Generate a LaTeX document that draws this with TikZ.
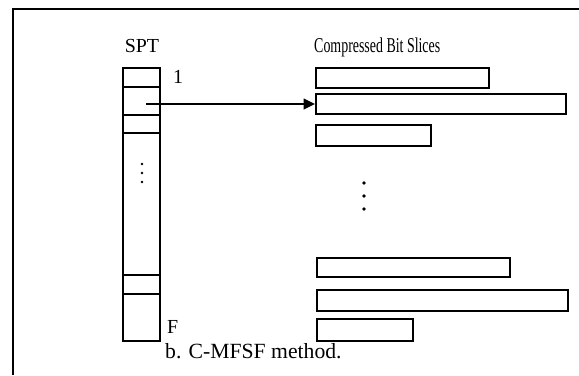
\documentclass[tikz,border=0pt]{standalone}
\usepackage{fontspec}
\setmainfont{Liberation Serif}
\newfontfamily\condfont[FakeStretch=0.66]{Liberation Serif}
\usetikzlibrary{arrows.meta,positioning}
\tikzset{
  cell/.style={draw=black,line width=1.4pt,minimum width=1.11cm,inner sep=0pt},
  slice/.style={draw=black,line width=1.5pt,anchor=north west,inner sep=0pt},
  lbl/.style={inner sep=0pt,font=\fontsize{17}{20}\selectfont},
  ptrarrow/.style={-{Triangle[length=3.4mm,width=3.2mm]},line width=1.3pt},
}

\begin{document}
\begin{tikzpicture}
  \useasboundingbox (0,0) rectangle (17.37,-11.25);
  % frame
  \draw[line width=1.3pt] (17.37,-0.27) -- (0.39,-0.27) -- (0.39,-11.25);
  % SPT column
  \node[lbl,anchor=base] (spt) at (4.26,-1.56) {SPT};
  \node[cell,minimum height=0.57cm] (c1) at (4.245,-2.325) {};
  \node[cell,minimum height=0.84cm] (c2) at (4.245,-3.03) {};
  \node[cell,minimum height=0.54cm] (c3) at (4.245,-3.72) {};
  \node[cell,minimum height=4.26cm] (c4) at (4.245,-6.12) {};
  \node[cell,minimum height=0.57cm] (c5) at (4.245,-8.535) {};
  \node[cell,minimum height=1.41cm] (c6) at (4.245,-9.525) {};
  \node[lbl,anchor=base west] (first) at (5.19,-2.49) {1};
  \node[lbl,anchor=base west] (last) at (5.01,-9.99) {F};
  \foreach \y in {-4.92,-5.19,-5.46}
    \fill (4.26,\y) circle (0.04);
  % bit slices
  \node[anchor=base west,inner sep=0pt,font=\condfont\fontsize{18}{21}\selectfont]
    (head) at (9.42,-1.56) {Compressed Bit Slices};
  \node[slice,minimum width=5.19cm,minimum height=0.60cm] (b1) at (9.45,-2.01) {};
  \node[slice,minimum width=7.50cm,minimum height=0.60cm] (b2) at (9.45,-2.79) {};
  \node[slice,minimum width=3.45cm,minimum height=0.63cm] (b3) at (9.45,-3.72) {};
  \node[slice,minimum width=5.79cm,minimum height=0.57cm] (b4) at (9.48,-7.71) {};
  \node[slice,minimum width=7.53cm,minimum height=0.63cm] (b5) at (9.48,-8.67) {};
  \node[slice,minimum width=2.88cm,minimum height=0.66cm] (b6) at (9.48,-9.54) {};
  \foreach \y in {-5.49,-5.88,-6.27}
    \fill (10.92,\y) circle (0.055);
  % pointer
  \coordinate (ptr) at (4.38,-3.12);
  \draw[ptrarrow] (ptr) -- (ptr -| b2.west);
  \node[anchor=base west,inner sep=0pt,font=\fontsize{18.5}{22}\selectfont]
    (caption) at (4.95,-10.74) {b. C-MFSF method.};
\end{tikzpicture}
\end{document}
